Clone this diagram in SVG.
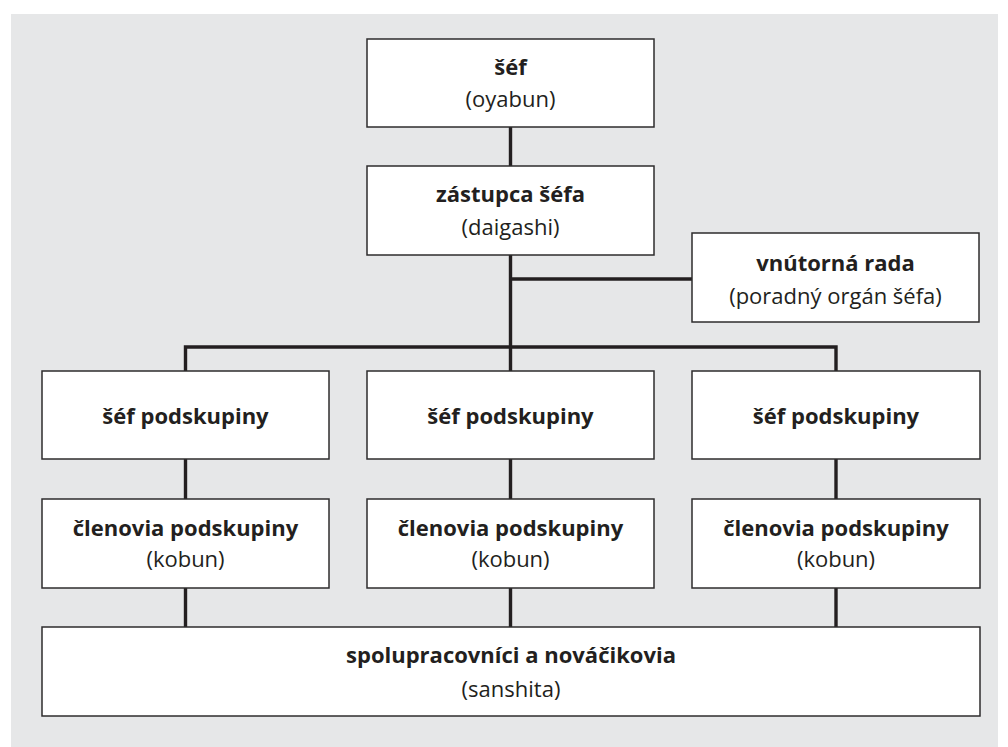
<svg xmlns="http://www.w3.org/2000/svg" width="1008" height="747" viewBox="0 0 1008 747">
<style>
.bg{fill:#e6e7e8}
.box{fill:#ffffff;stroke:#2e2c2d;stroke-width:1.5}
.conn{fill:none;stroke:#231f20;stroke-width:3.4;stroke-linecap:butt}
text{font-family:"Open Sans","Noto Sans","Liberation Sans",sans-serif;font-size:22px;fill:#231f20;text-anchor:middle}
.b{font-weight:bold}
</style>
<rect class="bg" x="11" y="14" width="987" height="733"/>
<g id="connectors">
<line class="conn" x1="510.5" y1="127" x2="510.5" y2="166"/>
<line class="conn" x1="510.5" y1="255" x2="510.5" y2="371"/>
<line class="conn" x1="510.5" y1="279" x2="692" y2="279"/>
<polyline class="conn" points="185.5,371 185.5,347 836,347 836,371"/>
<line class="conn" x1="185.5" y1="459" x2="185.5" y2="499"/>
<line class="conn" x1="510.5" y1="459" x2="510.5" y2="499"/>
<line class="conn" x1="836" y1="459" x2="836" y2="499"/>
<line class="conn" x1="185.5" y1="588" x2="185.5" y2="627"/>
<line class="conn" x1="510.5" y1="588" x2="510.5" y2="627"/>
<line class="conn" x1="836" y1="588" x2="836" y2="627"/>
</g>
<g id="sef">
<rect class="box" x="367" y="39" width="287" height="88"/>
<text class="b" x="510.5" y="75">šéf</text>
<text x="510.5" y="107">(oyabun)</text>
</g>
<g id="zastupca">
<rect class="box" x="367" y="166" width="287" height="89"/>
<text class="b" x="510.5" y="202">zástupca šéfa</text>
<text x="510.5" y="235">(daigashi)</text>
</g>
<g id="rada">
<rect class="box" x="692" y="233" width="287" height="89"/>
<text class="b" x="835.5" y="271">vnútorná rada</text>
<text x="835.5" y="304">(poradný orgán šéfa)</text>
</g>
<g id="sef-pod-1">
<rect class="box" x="42" y="371" width="287" height="88"/>
<text class="b" x="185.5" y="424">šéf podskupiny</text>
</g>
<g id="sef-pod-2">
<rect class="box" x="367" y="371" width="287" height="88"/>
<text class="b" x="510.5" y="424">šéf podskupiny</text>
</g>
<g id="sef-pod-3">
<rect class="box" x="692" y="371" width="288" height="88"/>
<text class="b" x="836" y="424">šéf podskupiny</text>
</g>
<g id="clen-1">
<rect class="box" x="42" y="499" width="287" height="89"/>
<text class="b" x="185.5" y="536">členovia podskupiny</text>
<text x="185.5" y="567">(kobun)</text>
</g>
<g id="clen-2">
<rect class="box" x="367" y="499" width="287" height="89"/>
<text class="b" x="510.5" y="536">členovia podskupiny</text>
<text x="510.5" y="567">(kobun)</text>
</g>
<g id="clen-3">
<rect class="box" x="692" y="499" width="288" height="89"/>
<text class="b" x="836" y="536">členovia podskupiny</text>
<text x="836" y="567">(kobun)</text>
</g>
<g id="spolupracovnici">
<rect class="box" x="42" y="627" width="938" height="89"/>
<text class="b" x="511" y="663">spolupracovníci a nováčikovia</text>
<text x="511" y="697">(sanshita)</text>
</g>
</svg>
